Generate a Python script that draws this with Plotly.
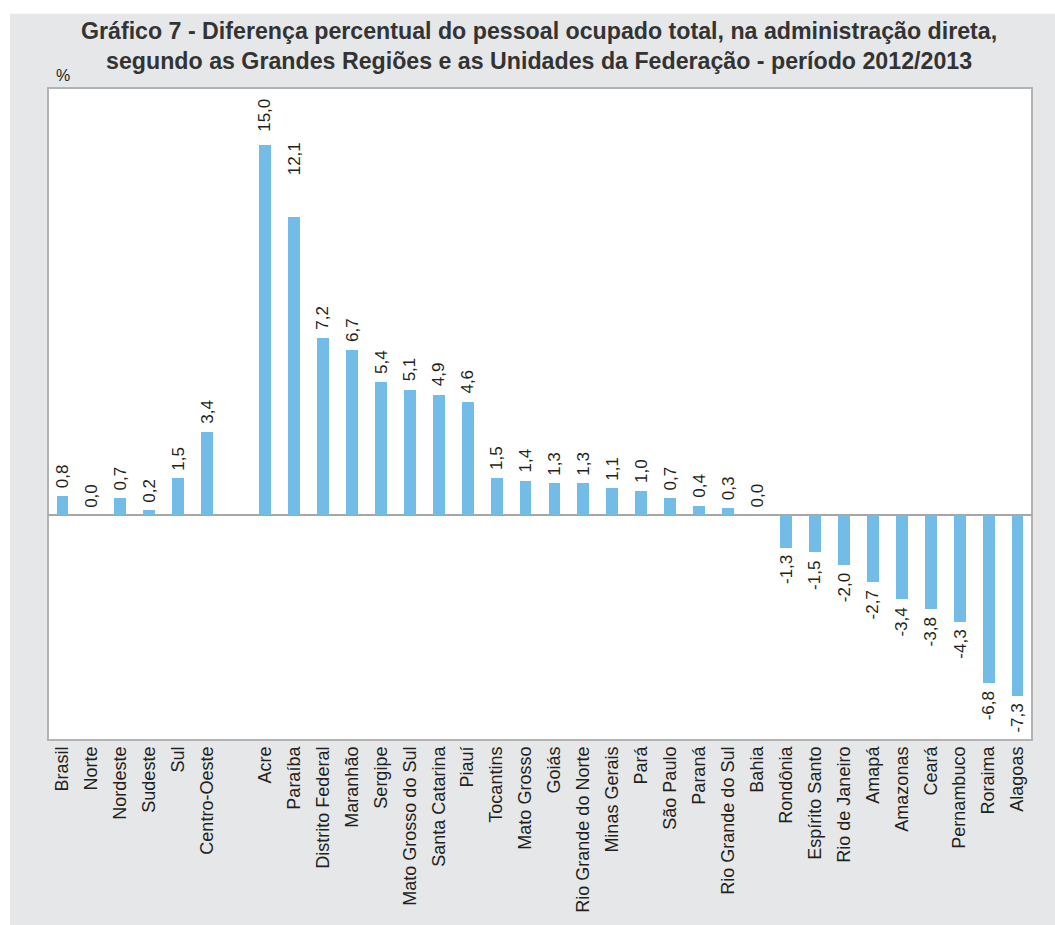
import plotly.graph_objects as go

# ---- data ----
regions = ["Brasil", "Norte", "Nordeste", "Sudeste", "Sul", "Centro-Oeste"]
region_values = [0.8, 0.0, 0.7, 0.2, 1.5, 3.4]

states = ["Acre", "Paraíba", "Distrito Federal", "Maranhão", "Sergipe",
          "Mato Grosso do Sul", "Santa Catarina", "Piauí", "Tocantins",
          "Mato Grosso", "Goiás", "Rio Grande do Norte", "Minas Gerais", "Pará",
          "São Paulo", "Paraná", "Rio Grande do Sul", "Bahia", "Rondônia",
          "Espírito Santo", "Rio de Janeiro", "Amapá", "Amazonas", "Ceará",
          "Pernambuco", "Roraima", "Alagoas"]
state_values = [15.0, 12.1, 7.2, 6.7, 5.4, 5.1, 4.9, 4.6, 1.5, 1.4, 1.3, 1.3,
                1.1, 1.0, 0.7, 0.4, 0.3, 0.0, -1.3, -1.5, -2.0, -2.7, -3.4,
                -3.8, -4.3, -6.8, -7.3]

title_lines = ["Gráfico 7 - Diferença percentual do pessoal ocupado total, na administração direta,",
               "segundo as Grandes Regiões e as Unidades da Federação - período 2012/2013"]
unit_label = "%"

# ---- build ----
labels = regions + states
values = region_values + state_values
xpos = list(range(len(regions))) + [len(regions) + 1 + i for i in range(len(states))]
texts = [f"{v:.1f}".replace(".", ",") for v in values]

W, H = 1055, 925
L, R, T, B = 48, 1032, 88, 746  # plot area in pixels
pw, ph = R - L, B - T

def px(x):
    return (x - L) / pw

def py(y):
    return (B - y) / ph

BAR = "#73BCE8"
PANEL = "#E6E7E8"
TXT = "#231F20"
FONT = "Liberation Sans, Arial, sans-serif"
LABEL_GAP = 7
extra_lift = {"Acre": 5, "Paraíba": 33}  # label placement tweaks (style)

fig = go.Figure()
fig.add_trace(go.Bar(
    x=xpos, y=values, width=0.41,
    marker=dict(color=BAR, line=dict(width=0)),
    hoverinfo="skip",
))

shapes = [
    dict(type="rect", xref="paper", yref="paper", layer="below",
         x0=px(10), x1=px(1070), y0=py(940), y1=py(13),
         fillcolor=PANEL, line=dict(width=0)),
    dict(type="rect", xref="paper", yref="paper", layer="below",
         x0=0, x1=1, y0=0, y1=1,
         fillcolor="white", line=dict(color="#B3B3B3", width=2)),
]

annotations = [
    dict(text="<b>" + "<br>".join(title_lines) + "</b>", xref="paper", yref="paper",
         x=px(539), y=py(46), xanchor="center", yanchor="middle", showarrow=False,
         font=dict(family=FONT, size=23.2, color="#333333"), align="center"),
    dict(text=unit_label, xref="paper", yref="paper", x=px(63), y=py(75),
         xanchor="center", yanchor="middle", showarrow=False,
         font=dict(family=FONT, size=16, color=TXT)),
]
for lab, x, v, t in zip(labels, xpos, values, texts):
    pos = v >= 0
    annotations.append(dict(
        text=t, x=x, y=v, xref="x", yref="y", showarrow=False, textangle=-90,
        xanchor="center", yanchor="bottom" if pos else "top",
        yshift=(LABEL_GAP + extra_lift.get(lab, 0)) if pos else -LABEL_GAP,
        borderpad=0, font=dict(family=FONT, size=17, color=TXT),
    ))

fig.update_layout(
    width=W, height=H,
    margin=dict(l=L, r=W - R, t=T, b=H - B, pad=0),
    paper_bgcolor="white", plot_bgcolor="rgba(0,0,0,0)",
    showlegend=False, shapes=shapes, annotations=annotations,
    bargap=0,
)
fig.update_xaxes(
    range=[-0.5, xpos[-1] + 0.5], tickmode="array", tickvals=xpos, ticktext=labels,
    tickangle=-90, showgrid=False, zeroline=False, showline=False, ticks="",
    ticklabelstandoff=2,
    tickfont=dict(family=FONT, size=18, color=TXT),
)
fig.update_yaxes(
    range=[-9.1, 17.32], showticklabels=False, showgrid=False, ticks="",
    zeroline=True, zerolinecolor="#A6A6A6", zerolinewidth=2, showline=False,
)

page_js = ("document.body.style.margin='0';"
           "document.body.style.background='" + PANEL + "';"
           "document.documentElement.style.overflow='hidden';")
fig.write_html("out.html", config={"displayModeBar": False}, post_script=page_js)
